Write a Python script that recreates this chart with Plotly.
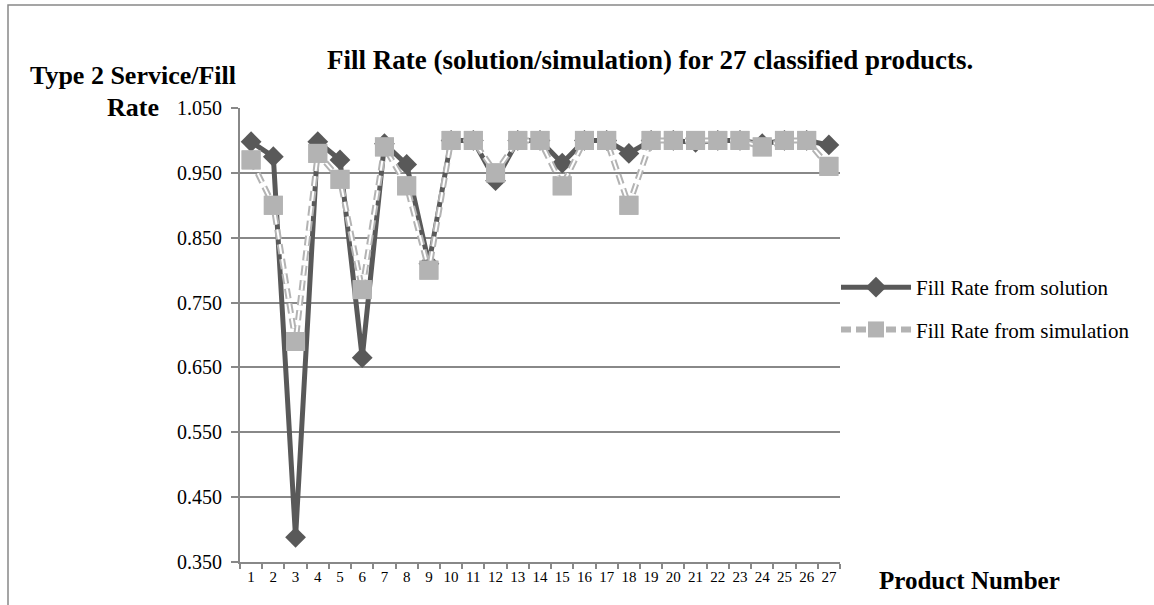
import plotly.graph_objects as go

products = [str(i) for i in range(1, 28)]
fill_solution = [0.998, 0.975, 0.388, 0.998, 0.970, 0.665, 0.995, 0.963, 0.810,
                 1.000, 1.000, 0.938, 1.000, 1.000, 0.965, 1.000, 1.000, 0.980,
                 1.000, 1.000, 0.997, 1.000, 1.000, 0.995, 1.000, 1.000, 0.993]
fill_simulation = [0.970, 0.900, 0.690, 0.980, 0.940, 0.770, 0.990, 0.930, 0.800,
                   1.000, 1.000, 0.950, 1.000, 1.000, 0.930, 1.000, 1.000, 0.900,
                   1.000, 1.000, 1.000, 1.000, 1.000, 0.990, 1.000, 1.000, 0.960]
y_ticks = [0.35, 0.45, 0.55, 0.65, 0.75, 0.85, 0.95, 1.05]

FONT = "Liberation Serif, Times New Roman, serif"
DARK = "#595959"
LIGHT = "#B3B3B3"
GRID = "#888888"

W, H = 1154, 605
L, R, T, B = 240, 314, 108, 43
pw, ph = W - L - R, H - T - B


def px_x(x):
    return (x - L) / pw


def px_y(y):
    return (H - B - y) / ph


fig = go.Figure()

fig.add_trace(go.Scatter(
    x=products, y=fill_solution, mode="lines+markers",
    name="Fill Rate from solution", legendgroup="a",
    line=dict(color=DARK, width=5),
    marker=dict(symbol="diamond", size=16, color=DARK),
))
# hollow dashed line: a wide grey dash with a thin white core
fig.add_trace(go.Scatter(
    x=products, y=fill_simulation, mode="lines+markers",
    name="Fill Rate from simulation", legendgroup="b",
    line=dict(color=LIGHT, width=6, dash="10px,5px"),
    marker=dict(symbol="square", size=19, color=LIGHT),
))
fig.add_trace(go.Scatter(
    x=products, y=fill_simulation, mode="lines",
    showlegend=False, legendgroup="b", hoverinfo="skip",
    line=dict(color="white", width=2, dash="10px,5px"),
))
fig.add_trace(go.Scatter(
    x=products, y=fill_simulation, mode="markers",
    showlegend=False, legendgroup="b", hoverinfo="skip",
    marker=dict(symbol="square", size=19, color=LIGHT),
))

fig.update_layout(
    width=W, height=H,
    margin=dict(l=L, r=R, t=T, b=B),
    paper_bgcolor="white", plot_bgcolor="white",
    font=dict(family=FONT, color="black", size=16),
    showlegend=True,
    legend=dict(
        x=px_x(836), y=px_y(267), xanchor="left", yanchor="top",
        font=dict(family=FONT, size=21, color="black"),
        traceorder="grouped", tracegroupgap=12,
        itemwidth=70, bgcolor="rgba(0,0,0,0)",
    ),
    xaxis=dict(
        type="category", tickson="boundaries", range=[-0.5, 26.5],
        showgrid=False, showline=True, linecolor=GRID, linewidth=2,
        ticks="outside", ticklen=5, tickcolor=GRID, tickwidth=1.5,
        tickangle=0,
        tickfont=dict(family=FONT, size=15, color="black"),
        zeroline=False,
    ),
    yaxis=dict(
        range=[0.35, 1.05], tickvals=y_ticks, tickformat=".3f",
        showgrid=True, gridcolor=GRID, gridwidth=2,
        showline=True, linecolor=GRID, linewidth=2,
        ticks="outside", ticklen=7, tickcolor=GRID, tickwidth=1.5,
        ticklabelstandoff=5,
        tickfont=dict(family=FONT, size=20, color="black"),
        zeroline=False,
    ),
    shapes=[dict(
        type="rect", xref="paper", yref="paper",
        x0=px_x(8), x1=px_x(1160), y0=px_y(612), y1=px_y(5),
        line=dict(color=GRID, width=1.5), fillcolor="rgba(0,0,0,0)",
        layer="below",
    )],
    annotations=[
        dict(text="<b>Fill Rate (solution/simulation) for 27 classified products.</b>",
             xref="paper", yref="paper", x=px_x(650), y=px_y(60),
             xanchor="center", yanchor="middle", showarrow=False,
             font=dict(family=FONT, size=27, color="black")),
        dict(text="<b>Type 2 Service/Fill</b>",
             xref="paper", yref="paper", x=px_x(133), y=px_y(75),
             xanchor="center", yanchor="middle", showarrow=False,
             font=dict(family=FONT, size=26, color="black")),
        dict(text="<b>Rate</b>",
             xref="paper", yref="paper", x=px_x(133), y=px_y(107),
             xanchor="center", yanchor="middle", showarrow=False,
             font=dict(family=FONT, size=26, color="black")),
        dict(text="<b>Product Number</b>",
             xref="paper", yref="paper", x=px_x(970), y=px_y(580),
             xanchor="center", yanchor="middle", showarrow=False,
             font=dict(family=FONT, size=25, color="black")),
    ],
)

fig.write_html("out.html")
